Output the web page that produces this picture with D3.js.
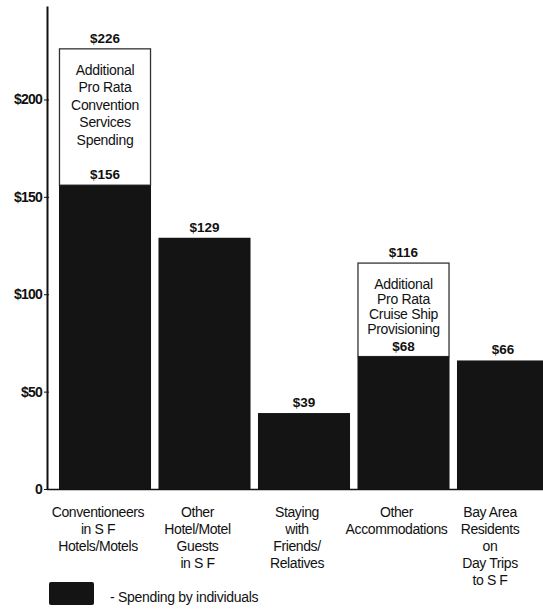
<!DOCTYPE html>
<html>
<head>
<meta charset="utf-8">
<script src="https://cdn.jsdelivr.net/npm/d3@7"></script>
<style>
  body { margin: 0; background: #fff; }
  text { font-family: "Liberation Sans", Arial, sans-serif; fill: #111; }
</style>
</head>
<body>
<div id="chart"></div>
<script>
// Data
var categories = [
    ["Conventioneers", "in S F", "Hotels/Motels"],
    ["Other", "Hotel/Motel", "Guests", "in S F"],
    ["Staying", "with", "Friends/", "Relatives"],
    ["Other", "Accommodations"],
    ["Bay Area", "Residents", "on", "Day Trips", "to S F"]
];
var individual = [156, 129, 39, 68, 66];
var totals = [226, null, null, 116, null];
var boxText = [
    ["Additional", "Pro Rata", "Convention", "Services", "Spending"],
    null,
    null,
    ["Additional", "Pro Rata", "Cruise Ship", "Provisioning"],
    null
];
var yTicks = [0, 50, 100, 150, 200];
var legendText = "- Spending by individuals";

var svgWidth = 543;
var svgHeight = 610;
var axisX = 47;
var baseY = 489;

var svg = d3.select("#chart")
    .append("svg")
    .attr("width", svgWidth)
    .attr("height", svgHeight);

var x = d3.scaleBand()
    .domain(d3.range(categories.length))
    .range([55, 553])
    .paddingInner(0.075)
    .paddingOuter(0.04);

var y = d3.scaleLinear()
    .domain([0, 248])
    .range([baseY, 6]);

var bw = x.bandwidth();

// outlined boxes for the extra spending
svg.selectAll("rect.box")
    .data(d3.range(categories.length).filter(function (i) { return totals[i] != null; }))
    .enter()
    .append("rect")
    .attr("class", "box")
    .attr("x", function (i) { return x(i) + 0.5; })
    .attr("y", function (i) { return y(totals[i]); })
    .attr("width", bw - 1)
    .attr("height", function (i) { return y(individual[i]) - y(totals[i]); })
    .attr("fill", "#fff")
    .attr("stroke", "#333")
    .attr("stroke-width", 1.3);

// black bars
svg.selectAll("rect.bar")
    .data(individual)
    .enter()
    .append("rect")
    .attr("class", "bar")
    .attr("x", function (d, i) { return x(i); })
    .attr("y", function (d) { return y(d); })
    .attr("width", bw)
    .attr("height", function (d) { return baseY - y(d); })
    .attr("fill", "#141414");

// value labels
individual.forEach(function (v, i) {
    var cx = x(i) + bw / 2;
    var inBox = totals[i] != null;
    svg.append("text")
        .attr("x", cx)
        .attr("y", y(v) - 6)
        .attr("text-anchor", "middle")
        .attr("font-size", 13.5)
        .attr("font-weight", "bold")
        .text("$" + v);
    if (inBox) {
        var top = y(totals[i]);
        svg.append("text")
            .attr("x", cx)
            .attr("y", top - 6)
            .attr("text-anchor", "middle")
            .attr("font-size", 13.5)
            .attr("font-weight", "bold")
            .text("$" + totals[i]);
        var lines = boxText[i];
        var gap = Math.min(17.5, (y(v) - top - 33) / lines.length);
        lines.forEach(function (line, k) {
            svg.append("text")
                .attr("x", cx)
                .attr("y", top + 26 + k * gap)
                .attr("text-anchor", "middle")
                .attr("font-size", 14)
                .attr("letter-spacing", -0.3)
                .text(line);
        });
    }
});

// y axis
var yAxis = d3.axisLeft(y)
    .tickValues(yTicks)
    .tickSizeInner(3)
    .tickSizeOuter(0)
    .tickPadding(2)
    .tickFormat(function (d) { return d === 0 ? "0" : "$" + d; });

var yG = svg.append("g")
    .attr("transform", "translate(" + axisX + ",0)")
    .call(yAxis);
yG.select(".domain").attr("stroke", "#111").attr("stroke-width", 2);
yG.selectAll(".tick line").attr("stroke", "#111").attr("x2", 2).attr("x1", -3);
yG.selectAll(".tick text")
    .attr("font-family", "Liberation Sans, Arial, sans-serif")
    .attr("font-size", 14)
    .attr("font-weight", "bold")
    .attr("letter-spacing", -0.8)
    .attr("fill", "#111");

// baseline
svg.append("line")
    .attr("x1", axisX)
    .attr("x2", svgWidth)
    .attr("y1", baseY + 0.5)
    .attr("y2", baseY + 0.5)
    .attr("stroke", "#111")
    .attr("stroke-width", 1.6);

// category labels
categories.forEach(function (lines, i) {
    var cx = Math.min(x(i) + bw / 2 - 7, 490);
    lines.forEach(function (line, k) {
        svg.append("text")
            .attr("x", cx)
            .attr("y", 517 + k * 17)
            .attr("text-anchor", "middle")
            .attr("font-size", 14)
            .attr("letter-spacing", -0.4)
            .text(line);
    });
});

// legend
svg.append("rect")
    .attr("x", 49)
    .attr("y", 582)
    .attr("width", 45)
    .attr("height", 23)
    .attr("rx", 2)
    .attr("fill", "#141414");
svg.append("text")
    .attr("x", 110)
    .attr("y", 602)
    .attr("font-size", 14)
    .attr("letter-spacing", -0.3)
    .text(legendText);
</script>
</body>
</html>
